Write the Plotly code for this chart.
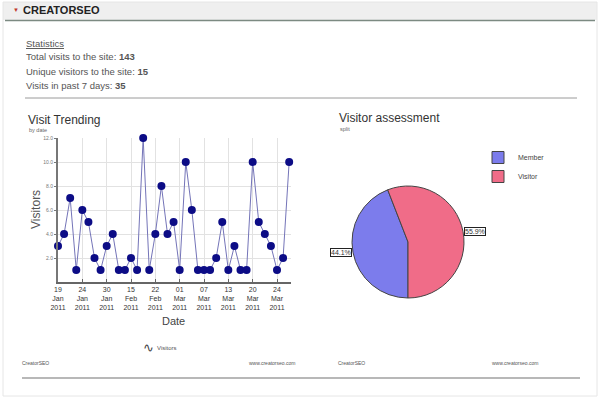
import math
import plotly.graph_objects as go

# ---------------- data ----------------
visits = [3, 4, 7, 1, 6, 5, 2, 1, 3, 4, 1, 1, 2, 1, 12, 1, 4, 8, 4, 5,
          1, 10, 6, 1, 1, 1, 2, 5, 1, 3, 1, 1, 10, 5, 4, 3, 1, 2, 10]
tick_labels = ["19<br>Jan<br>2011", "24<br>Jan<br>2011", "30<br>Jan<br>2011",
               "15<br>Feb<br>2011", "22<br>Feb<br>2011", "01<br>Mar<br>2011",
               "07<br>Mar<br>2011", "13<br>Mar<br>2011", "20<br>Mar<br>2011",
               "24<br>Mar<br>2011"]
tick_step = 4
y_ticks = [2, 4, 6, 8, 10, 12]
pie_labels = ["Member", "Visitor"]
pie_values = [44.1, 55.9]
pie_colors = ["#7c7cec", "#f06c88"]
stats_total = 143
stats_unique = 15
stats_week = 35

W, H = 600, 400
def px(x):
    return x / W
def py(y):
    return 1 - y / H

idx = list(range(len(visits)))
tickvals = idx[::tick_step][:len(tick_labels)]

fig = go.Figure()
fig.add_trace(go.Scatter(
    x=idx, y=visits, mode="lines+markers", name="Visitors",
    line=dict(color="#7474b8", width=1),
    marker=dict(color="#0c0c86", size=8),
    cliponaxis=False, showlegend=False,
))

# pie
pie_l, pie_r, pie_t, pie_b = 352, 464, 186, 298
fig.add_trace(go.Pie(
    labels=pie_labels, values=pie_values, sort=False, direction="clockwise",
    rotation=180, textinfo="none", hoverinfo="label+percent",
    marker=dict(colors=pie_colors, line=dict(color="#444", width=1)),
    domain=dict(x=[px(pie_l), px(pie_r)], y=[py(pie_b), py(pie_t)]),
    showlegend=True, automargin=False,
))

FONT = "Liberation Sans, Arial, sans-serif"

fig.update_layout(
    width=W, height=H, margin=dict(l=0, r=0, t=0, b=0, autoexpand=False),
    paper_bgcolor="white", plot_bgcolor="white",
    font=dict(family=FONT, color="#444"),
    xaxis=dict(domain=[px(58), px(291)], range=[0, 38.3], automargin=False,
               tickmode="array", tickvals=tickvals, ticktext=tick_labels,
               tickfont=dict(size=7, color="#333", family=FONT),
               showgrid=True, gridcolor="#e2e2e2", gridwidth=1,
               showline=True, linecolor="#666", linewidth=1.5,
               ticks="inside", ticklen=3, tickcolor="#666",
               zeroline=False, fixedrange=True),
    yaxis=dict(domain=[py(282), py(138)], range=[0, 12], automargin=False,
               tickmode="array", tickvals=y_ticks,
               ticktext=[f"{v:.1f}" for v in y_ticks],
               tickfont=dict(size=5, color="#777"),
               showgrid=True, gridcolor="#e2e2e2", gridwidth=1,
               showline=True, linecolor="#777", linewidth=2,
               ticks="outside", ticklen=2, tickcolor="#777",
               zeroline=False, fixedrange=True),
    legend=dict(x=px(478), y=py(143), xanchor="left", yanchor="top",
                font=dict(size=7, color="#444"), bgcolor="rgba(0,0,0,0)",
                itemwidth=30, tracegroupgap=2),
)

shapes = [
    dict(type="rect", xref="paper", yref="paper", x0=px(3), x1=px(597), y0=py(396), y1=py(2),
         line=dict(color="#e6e6e6", width=1), fillcolor="rgba(0,0,0,0)"),
    dict(type="rect", xref="paper", yref="paper", x0=px(3), x1=px(597), y0=py(20), y1=py(2),
         line=dict(width=0), fillcolor="#efefef", layer="below"),
    dict(type="line", xref="paper", yref="paper", x0=px(5), x1=px(595), y0=py(20.5), y1=py(20.5),
         line=dict(color="#7c8a82", width=1.5)),
    dict(type="line", xref="paper", yref="paper", x0=px(25), x1=px(577), y0=py(98), y1=py(98),
         line=dict(color="#9a9a9a", width=1)),
    dict(type="line", xref="paper", yref="paper", x0=px(22), x1=px(580), y0=py(378), y1=py(378),
         line=dict(color="#b8b8b8", width=2)),
]
fig.update_layout(shapes=shapes)

ann = []
def text(x, y, s, size, color="#444", family=FONT, xanchor="left", **kw):
    ann.append(dict(x=px(x), y=py(y), xref="paper", yref="paper", text=s, showarrow=False,
                    xanchor=xanchor, yanchor="middle",
                    font=dict(size=size, color=color, family=family), **kw))

text(11, 10, "▼", 6, color="#c0392b")
text(21, 10, "<b>CREATORSEO</b>", 11, color="#222")
text(24, 43, "<u>Statistics</u>", 9.5, color="#555")
text(24, 57, f"Total visits to the site: <b>{stats_total}</b>", 9.5, color="#555")
text(24, 71, f"Unique visitors to the site: <b>{stats_unique}</b>", 9.5, color="#555")
text(24, 86, f"Visits in past 7 days: <b>{stats_week}</b>", 9.5, color="#555")

text(26, 120, "Visit Trending", 12, color="#333")
text(27, 130, "by date", 5.5, color="#666")
ann.append(dict(x=px(36), y=py(210), xref="paper", yref="paper", text="Visitors",
                showarrow=False, textangle=-90, xanchor="center", yanchor="middle",
                font=dict(size=12, color="#555")))
text(173, 321, "Date", 11, color="#444", xanchor="center")
text(141, 347, "∿", 13, color="#444")
text(155, 348, "Visitors", 6, color="#555")
text(20, 363, "CreatorSEO", 5, color="#555")
text(297, 363, "www.creatorseo.com", 5, color="#555", xanchor="right")

text(337, 118, "Visitor assessment", 12, color="#333")
text(338, 129, "split", 5.5, color="#666")
text(336, 363, "CreatorSEO", 5, color="#555")
text(540, 363, "www.creatorseo.com", 5, color="#555", xanchor="right")

# pie percentage boxes placed at the slice mid-angles
cx, cy, r = (pie_l + pie_r) / 2, (pie_t + pie_b) / 2, (pie_r - pie_l) / 2
total = sum(pie_values)
start = 180.0
for v in pie_values:
    span = 360 * v / total
    mid = math.radians(start + span / 2)
    lx = cx + (r + 1) * math.sin(mid)
    ly = cy - r * math.cos(mid)
    ann.append(dict(x=px(lx), y=py(ly), xref="paper", yref="paper",
                    text=f"{v:.1f}%", showarrow=False,
                    xanchor="right" if math.sin(mid) < 0 else "left", yanchor="middle",
                    bordercolor="#222", borderwidth=1, borderpad=0, bgcolor="white",
                    font=dict(size=7, color="#333")))
    start += span

fig.update_layout(annotations=ann)
fig.write_html("out.html")
